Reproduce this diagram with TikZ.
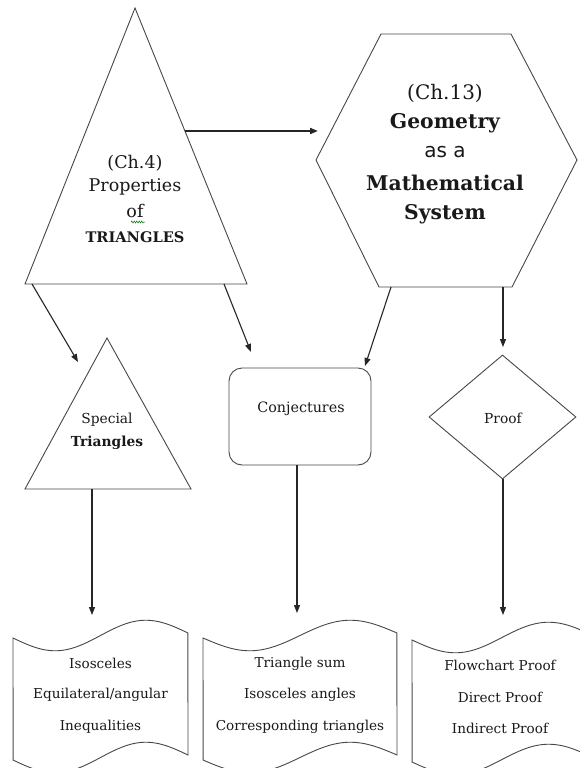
\documentclass[tikz,border=0pt]{standalone}
\usepackage{fontspec}
\setmainfont{DejaVu Serif}
\newfontfamily\sansf{DejaVu Sans}
\usetikzlibrary{arrows.meta,shapes.geometric,decorations.pathmorphing}
\newcommand\tapeshape[4]{% left, width, top, name
  \draw[shapeline] (#1,#3)
    plot[domain=0:1,samples=60] ({#1+\x*#2},{#3+14*sin(360*\x)-5*\x})
    -- plot[domain=1:0,samples=60] ({#1+\x*#2},{#3+122+14*sin(360*\x)-5*\x})
    -- cycle;
  \coordinate (#4) at ({#1+0.5*#2},#3);
}
\begin{document}
\begin{tikzpicture}[x=1pt,y=-1pt,
  shapeline/.style={draw=black!72,line width=0.9pt},
  conn/.style={draw=black!85,line width=1.1pt,-{Triangle[length=8pt,width=6pt]}},
  txt/.style={inner sep=0pt,text=black!90,anchor=center},
  small/.style={font=\fontsize{13.8}{14}\selectfont},
  smallbold/.style={font=\bfseries\fontsize{13.8}{14}\selectfont},
  doctext/.style={font=\fontsize{13.6}{14}\selectfont},
]
\useasboundingbox[fill=white] (0,0) rectangle (580,768);

% ---- big triangle
\coordinate (tA) at (135,8);
\coordinate (tB) at (25,284);
\coordinate (tC) at (247,284);
\draw[shapeline] (tA) -- (tB) -- (tC) -- cycle;
\node[txt,font=\fontsize{17.5}{18}\selectfont] (t1) at (135,163) {(Ch.4)};
\node[txt,font=\fontsize{17.5}{18}\selectfont] (t2) at (135,187) {Properties};
\node[txt,font=\fontsize{17.5}{18}\selectfont] (t3) at (135,211) {of};
\node[txt,font=\bfseries\fontsize{14.6}{15}\selectfont] (t4) at (135,237) {TRIANGLES};
\draw[green!45!black,line width=0.5pt,decorate,decoration={snake,amplitude=1pt,segment length=2.5pt}]
  (131,222) -- (145,222);

% ---- hexagon
\coordinate (h1) at (316,160);
\coordinate (h2) at (381,34);
\coordinate (h3) at (511,34);
\coordinate (h4) at (577,160);
\coordinate (h5) at (512,287);
\coordinate (h6) at (379,287);
\draw[shapeline] (h1) -- (h2) -- (h3) -- (h4) -- (h5) -- (h6) -- cycle;
\node[txt,font=\fontsize{20}{20}\selectfont] (g1) at (445,93) {(Ch.13)};
\node[txt,font=\bfseries\fontsize{20.3}{20}\selectfont] (g2) at (445,123) {Geometry};
\node[txt,font=\sansf\fontsize{20}{20}\selectfont] (g3) at (445,152) {as a};
\node[txt,font=\bfseries\fontsize{20.3}{20}\selectfont] (g4) at (445,183) {Mathematical};
\node[txt,font=\bfseries\fontsize{20.3}{20}\selectfont] (g5) at (445,214) {System};

% ---- special triangle
\coordinate (sA) at (107,338);
\coordinate (sB) at (25,489);
\coordinate (sC) at (191,489);
\draw[shapeline] (sA) -- (sB) -- (sC) -- cycle;
\node[txt,small] (s1) at (107,420) {Special};
\node[txt,smallbold] (s2) at (107,443) {Triangles};

% ---- conjectures
\node[shapeline,rounded corners=13pt,minimum width=142pt,minimum height=97pt,inner sep=0pt] (conj) at (300,416.5) {};
\node[txt,font=\fontsize{14.3}{14}\selectfont] (c1) at (301,409) {Conjectures};

% ---- proof diamond
\node[shapeline,diamond,minimum width=147pt,minimum height=124pt,inner sep=0pt] (proof) at (502.5,417) {};
\node[txt,small] (p1) at (503,418) {Proof};

% ---- documents
\tapeshape{13}{175}{638}{d1}
\tapeshape{203}{194}{638}{d2}
\tapeshape{412}{180}{640}{d3}
\node[txt,doctext] at (100.5,663) {Isosceles};
\node[txt,doctext] at (100.5,695) {Equilateral/angular};
\node[txt,doctext] at (100.5,727) {Inequalities};
\node[txt,doctext] at (300,664) {Triangle sum};
\node[txt,doctext] at (300,695) {Isosceles angles};
\node[txt,doctext] at (300,727) {Corresponding triangles};
\node[txt,doctext] at (500,665) {Flowchart Proof};
\node[txt,doctext] at (500,697) {Direct Proof};
\node[txt,doctext] at (500,728) {Indirect Proof};

% ---- connector end points
\coordinate (a1s) at (185,131);  \coordinate (a1e) at (318,131);
\coordinate (a2s) at (32,284);   \coordinate (a2e) at (78,362);
\coordinate (a3s) at (224,284);  \coordinate (a3e) at (251,352);
\coordinate (a4s) at (391,287);  \coordinate (a4e) at (365,366);
\coordinate (a5s) at (503,287);  \coordinate (a5e) at (503,347);
\coordinate (a6s) at (92,489);   \coordinate (a6e) at (92,615);
\coordinate (a7s) at (297,465);  \coordinate (a7e) at (297,613);
\coordinate (a8s) at (503,479);  \coordinate (a8e) at (503,615);

\draw[conn,line width=1.8pt] (a1s) -- (a1e);
\draw[conn] (a2s) -- (a2e);
\draw[conn] (a3s) -- (a3e);
\draw[conn] (a4s) -- (a4e);
\draw[conn] (a5s) -- (a5e);
\draw[conn] (a6s) -- (a6e);
\draw[conn] (a7s) -- (a7e);
\draw[conn] (a8s) -- (a8e);
\end{tikzpicture}
\end{document}
